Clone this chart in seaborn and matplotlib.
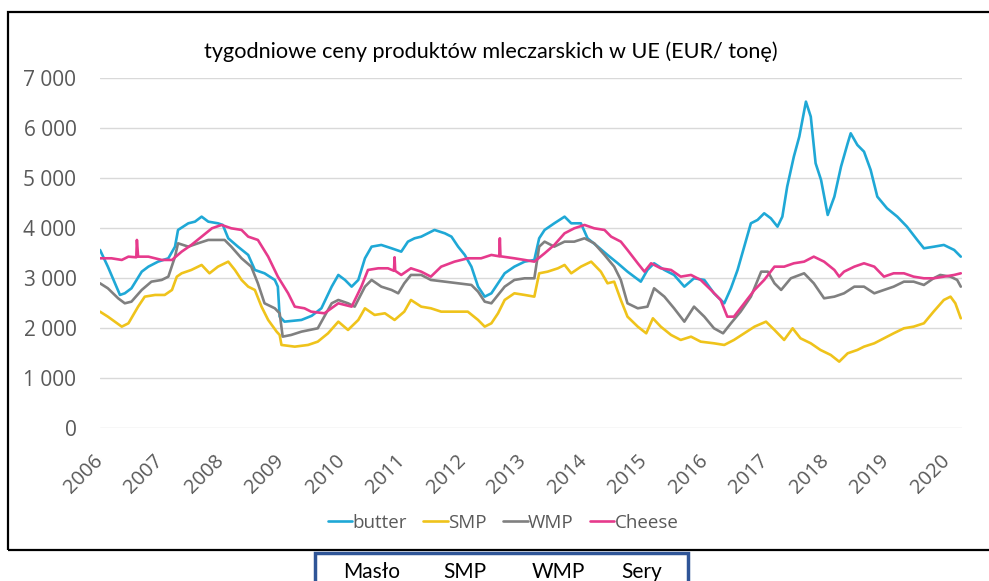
import numpy as np
import pandas as pd
import seaborn as sns
import matplotlib
matplotlib.use("Agg")
import matplotlib.pyplot as plt
from matplotlib.patches import Rectangle
from matplotlib.lines import Line2D

# ---------------- data ----------------
title = "tygodniowe ceny produktów mleczarskich w UE (EUR/ tonę)"
series_names = ["butter", "SMP", "WMP", "Cheese"]
box_labels = ["Masło", "SMP", "WMP", "Sery"]
year_ticks = list(range(2006, 2021))
y_ticks = [0, 1000, 2000, 3000, 4000, 5000, 6000, 7000]

butter_x = [2006.00, 2006.13, 2006.33, 2006.41, 2006.52, 2006.69, 2006.80, 2006.96, 2007.13, 2007.24,
            2007.29, 2007.46, 2007.57, 2007.68, 2007.79, 2007.95, 2008.03, 2008.12, 2008.28, 2008.45,
            2008.56, 2008.72, 2008.89, 2008.94, 2008.97, 2009.05, 2009.33, 2009.50, 2009.66, 2009.83,
            2009.94, 2010.05, 2010.16, 2010.27, 2010.38, 2010.49, 2010.65, 2010.82, 2010.98, 2011.09,
            2011.20, 2011.31, 2011.42, 2011.53, 2011.70, 2011.81, 2011.92, 2012.03, 2012.14, 2012.25,
            2012.36, 2012.47, 2012.58, 2012.69, 2012.85, 2013.02, 2013.18, 2013.26, 2013.35, 2013.51,
            2013.68, 2013.79, 2013.95, 2014.06, 2014.23, 2014.39, 2014.56, 2014.72, 2014.83, 2014.94,
            2015.05, 2015.16, 2015.33, 2015.49, 2015.66, 2015.82, 2015.99, 2016.15, 2016.32, 2016.43,
            2016.54, 2016.65, 2016.76, 2016.87, 2016.98, 2017.09, 2017.20, 2017.28, 2017.36, 2017.47,
            2017.56, 2017.67, 2017.75, 2017.83, 2017.92, 2018.03, 2018.14, 2018.25, 2018.36, 2018.41,
            2018.52, 2018.63, 2018.74, 2018.85, 2019.01, 2019.18, 2019.34, 2019.51, 2019.62, 2019.79,
            2019.95, 2020.12, 2020.23]
butter_y = [3567, 3233, 2667, 2700, 2800, 3133, 3233, 3333, 3400, 3633,
            3967, 4100, 4133, 4233, 4133, 4100, 4067, 3800, 3633, 3467,
            3167, 3100, 2967, 2833, 2233, 2133, 2167, 2250, 2400, 2833,
            3067, 2967, 2833, 2967, 3400, 3633, 3667, 3600, 3533, 3733,
            3800, 3833, 3900, 3967, 3900, 3833, 3633, 3467, 3233, 2833,
            2633, 2700, 2900, 3100, 3233, 3333, 3367, 3800, 3967, 4100,
            4233, 4100, 4100, 3800, 3633, 3467, 3300, 3133, 3033, 2933,
            3167, 3300, 3167, 3067, 2833, 3000, 2967, 2700, 2500, 2800,
            3167, 3633, 4100, 4167, 4300, 4200, 4033, 4233, 4833, 5433,
            5833, 6533, 6233, 5300, 4967, 4267, 4633, 5233, 5700, 5900,
            5667, 5533, 5167, 4633, 4400, 4233, 4033, 3767, 3600, 3633,
            3667, 3567, 3433]

smp_x = [2006.00, 2006.13, 2006.36, 2006.47, 2006.63, 2006.74, 2006.91, 2007.07, 2007.19, 2007.27,
         2007.35, 2007.51, 2007.68, 2007.81, 2007.95, 2008.12, 2008.23, 2008.34, 2008.45, 2008.56,
         2008.67, 2008.78, 2008.92, 2008.97, 2009.00, 2009.22, 2009.44, 2009.60, 2009.77, 2009.94,
         2010.10, 2010.27, 2010.38, 2010.54, 2010.71, 2010.87, 2011.03, 2011.14, 2011.31, 2011.47,
         2011.64, 2011.86, 2012.08, 2012.25, 2012.36, 2012.47, 2012.58, 2012.69, 2012.85, 2013.02,
         2013.18, 2013.26, 2013.40, 2013.57, 2013.68, 2013.79, 2013.95, 2014.12, 2014.28, 2014.39,
         2014.50, 2014.61, 2014.72, 2014.89, 2015.03, 2015.14, 2015.27, 2015.44, 2015.60, 2015.77,
         2015.93, 2016.15, 2016.32, 2016.48, 2016.65, 2016.82, 2017.01, 2017.15, 2017.31, 2017.45,
         2017.58, 2017.75, 2017.91, 2018.08, 2018.22, 2018.36, 2018.52, 2018.63, 2018.80, 2018.96,
         2019.12, 2019.29, 2019.45, 2019.62, 2019.78, 2019.95, 2020.06, 2020.14, 2020.23]
smp_y = [2333, 2233, 2033, 2100, 2433, 2633, 2667, 2667, 2767, 3033,
         3100, 3167, 3267, 3100, 3233, 3333, 3167, 2967, 2833, 2767,
         2433, 2167, 1933, 1867, 1667, 1633, 1667, 1733, 1900, 2133,
         1967, 2167, 2400, 2267, 2300, 2167, 2333, 2567, 2433, 2400,
         2333, 2333, 2333, 2167, 2033, 2100, 2300, 2567, 2700, 2667,
         2633, 3100, 3133, 3200, 3267, 3100, 3233, 3333, 3133, 2900,
         2933, 2567, 2233, 2033, 1900, 2200, 2033, 1867, 1767, 1833,
         1733, 1700, 1667, 1767, 1900, 2033, 2133, 1967, 1767, 2000,
         1800, 1700, 1567, 1467, 1333, 1500, 1567, 1633, 1700, 1800,
         1900, 2000, 2033, 2100, 2333, 2567, 2633, 2500, 2200]

wmp_x = [2006.00, 2006.13, 2006.30, 2006.41, 2006.52, 2006.69, 2006.85, 2007.02, 2007.13, 2007.24,
         2007.29, 2007.46, 2007.62, 2007.79, 2007.95, 2008.06, 2008.17, 2008.34, 2008.50, 2008.61,
         2008.72, 2008.89, 2008.97, 2009.02, 2009.16, 2009.33, 2009.60, 2009.83, 2009.94, 2010.10,
         2010.21, 2010.38, 2010.49, 2010.65, 2010.82, 2010.93, 2011.03, 2011.14, 2011.31, 2011.47,
         2011.70, 2011.92, 2012.14, 2012.25, 2012.36, 2012.47, 2012.58, 2012.69, 2012.85, 2013.02,
         2013.18, 2013.26, 2013.35, 2013.51, 2013.68, 2013.84, 2014.01, 2014.17, 2014.34, 2014.50,
         2014.61, 2014.72, 2014.89, 2015.05, 2015.16, 2015.33, 2015.49, 2015.66, 2015.82, 2015.99,
         2016.15, 2016.30, 2016.43, 2016.59, 2016.76, 2016.93, 2017.04, 2017.15, 2017.26, 2017.42,
         2017.64, 2017.80, 2017.97, 2018.14, 2018.30, 2018.47, 2018.63, 2018.80, 2018.96, 2019.12,
         2019.29, 2019.45, 2019.62, 2019.78, 2019.89, 2020.06, 2020.17, 2020.23]
wmp_y = [2900, 2800, 2600, 2500, 2533, 2767, 2933, 2967, 3033, 3433,
         3700, 3633, 3700, 3767, 3767, 3767, 3633, 3400, 3233, 2900,
         2500, 2400, 2300, 1833, 1867, 1933, 2000, 2500, 2567, 2500,
         2433, 2833, 2967, 2833, 2767, 2700, 2900, 3067, 3067, 2967,
         2933, 2900, 2867, 2733, 2533, 2500, 2667, 2833, 2967, 3000,
         3000, 3633, 3733, 3633, 3733, 3733, 3800, 3700, 3467, 3233,
         2967, 2500, 2400, 2433, 2800, 2633, 2400, 2133, 2433, 2233,
         2000, 1900, 2100, 2333, 2633, 3133, 3133, 2900, 2767, 3000,
         3100, 2900, 2600, 2633, 2700, 2833, 2833, 2700, 2767, 2833,
         2933, 2933, 2867, 3000, 3067, 3033, 2967, 2833]

cheese_x = [2006.00, 2006.19, 2006.36, 2006.47, 2006.60, 2006.61, 2006.63, 2006.80, 2007.02, 2007.19,
            2007.35, 2007.51, 2007.68, 2007.85, 2008.01, 2008.17, 2008.34, 2008.45, 2008.61, 2008.78,
            2008.94, 2009.11, 2009.22, 2009.38, 2009.49, 2009.71, 2009.94, 2010.16, 2010.32, 2010.43,
            2010.60, 2010.76, 2010.86, 2010.87, 2010.88, 2010.98, 2011.14, 2011.31, 2011.47, 2011.64,
            2011.86, 2012.08, 2012.30, 2012.47, 2012.60, 2012.61, 2012.62, 2012.85, 2013.02, 2013.18,
            2013.35, 2013.51, 2013.68, 2013.84, 2014.01, 2014.17, 2014.34, 2014.45, 2014.61, 2014.72,
            2014.89, 2015.00, 2015.11, 2015.27, 2015.44, 2015.60, 2015.77, 2015.93, 2016.10, 2016.26,
            2016.37, 2016.48, 2016.65, 2016.82, 2016.98, 2017.15, 2017.31, 2017.47, 2017.64, 2017.80,
            2017.97, 2018.14, 2018.22, 2018.30, 2018.47, 2018.63, 2018.80, 2018.96, 2019.12, 2019.29,
            2019.45, 2019.62, 2019.78, 2019.95, 2020.12, 2020.23]
cheese_y = [3400, 3400, 3367, 3433, 3420, 3767, 3433, 3433, 3367, 3367,
            3533, 3667, 3833, 4000, 4067, 4000, 3967, 3833, 3767, 3433,
            3033, 2700, 2433, 2400, 2333, 2300, 2500, 2433, 2833, 3167,
            3200, 3200, 3150, 3420, 3150, 3067, 3200, 3133, 3033, 3233,
            3333, 3400, 3400, 3467, 3440, 3800, 3440, 3400, 3367, 3333,
            3500, 3667, 3900, 4000, 4067, 4000, 3967, 3833, 3733, 3567,
            3300, 3133, 3300, 3200, 3167, 3033, 3067, 2967, 2767, 2567,
            2233, 2233, 2500, 2767, 2967, 3233, 3233, 3300, 3333, 3433,
            3333, 3167, 3033, 3133, 3233, 3300, 3233, 3033, 3100, 3100,
            3033, 3000, 3000, 3033, 3067, 3100]

colors = {"butter": "#1FA8D6", "SMP": "#EFC31B", "WMP": "#808080", "Cheese": "#E63A8C"}

df = pd.concat([
    pd.DataFrame({"year": butter_x, "price": butter_y, "series": "butter"}),
    pd.DataFrame({"year": smp_x, "price": smp_y, "series": "SMP"}),
    pd.DataFrame({"year": wmp_x, "price": wmp_y, "series": "WMP"}),
    pd.DataFrame({"year": cheese_x, "price": cheese_y, "series": "Cheese"}),
], ignore_index=True)

# ---------------- figure ----------------
sns.set_theme(style="white")
plt.rcParams["font.family"] = ["Open Sans", "DejaVu Sans"]

W, H = 989, 581
fig = plt.figure(figsize=(W / 100, H / 100), dpi=100)
fig.patch.set_facecolor("white")

x_left, x_right = 100, 962
y_top, y_bot = 78.3, 428.3
ax = fig.add_axes([x_left / W, 1 - y_bot / H, (x_right - x_left) / W, (y_bot - y_top) / H])

sns.lineplot(data=df, x="year", y="price", hue="series", hue_order=series_names,
             palette=colors, estimator=None, sort=False, linewidth=1.9, legend=False, ax=ax)

ax.set_xlim(2006, 2020.25)
ax.set_ylim(0, 7000)
for s in ax.spines.values():
    s.set_visible(False)
ax.set_xlabel("")
ax.set_ylabel("")
ax.set_yticks(y_ticks)
ax.set_yticklabels([f"{v:,}".replace(",", " ") for v in y_ticks])
ax.set_xticks(year_ticks)
ax.set_xticklabels([str(y) for y in year_ticks], rotation=45, ha="right",
                   rotation_mode="anchor", va="center")
ax.tick_params(axis="y", length=0, pad=17, labelsize=15, labelcolor="#595959")
ax.tick_params(axis="x", length=0, pad=21, labelsize=14.5, labelcolor="#595959")
for lbl in ax.get_xticklabels():
    lbl.set_x(lbl.get_position()[0])
ax.yaxis.grid(True, color="#d9d9d9", linewidth=1.0)
ax.xaxis.grid(False)
ax.set_axisbelow(True)

# title
fig.text(491 / W, 1 - 52 / H, title, ha="center", va="center", fontsize=15.6,
         family=["Lato", "DejaVu Sans"], color="black")

# legend
handles = [Line2D([0], [0], color=colors[n], lw=1.9) for n in series_names]
leg = fig.legend(handles, series_names, loc="center", bbox_to_anchor=(503 / W, 1 - 523 / H),
                 ncol=4, frameon=False, handlelength=1.3, handletextpad=0.0,
                 columnspacing=0.9, prop={"size": 13.5, "family": "Open Sans"})
for t in leg.get_texts():
    t.set_color("#595959")

# outer black frame
fig.add_artist(Rectangle((8 / W, 1 - 550 / H), 1.2, (550 - 12) / H, transform=fig.transFigure,
                         fill=False, edgecolor="black", linewidth=1.6, clip_on=False))

# bottom box with Polish labels
fig.add_artist(Rectangle((315 / W, -0.2), (688 - 315) / W, 0.2 + 1 - 553 / H,
                         transform=fig.transFigure, fill=False, edgecolor="#2F5597",
                         linewidth=2.5, clip_on=False))
for lbl, cx in zip(box_labels, [372, 465, 558, 642]):
    fig.text(cx / W, 1 - 572 / H, lbl, ha="center", va="center", fontsize=15,
             family=["Lato", "DejaVu Sans"], color="black")

fig.savefig("out.png", dpi=100, facecolor="white")
